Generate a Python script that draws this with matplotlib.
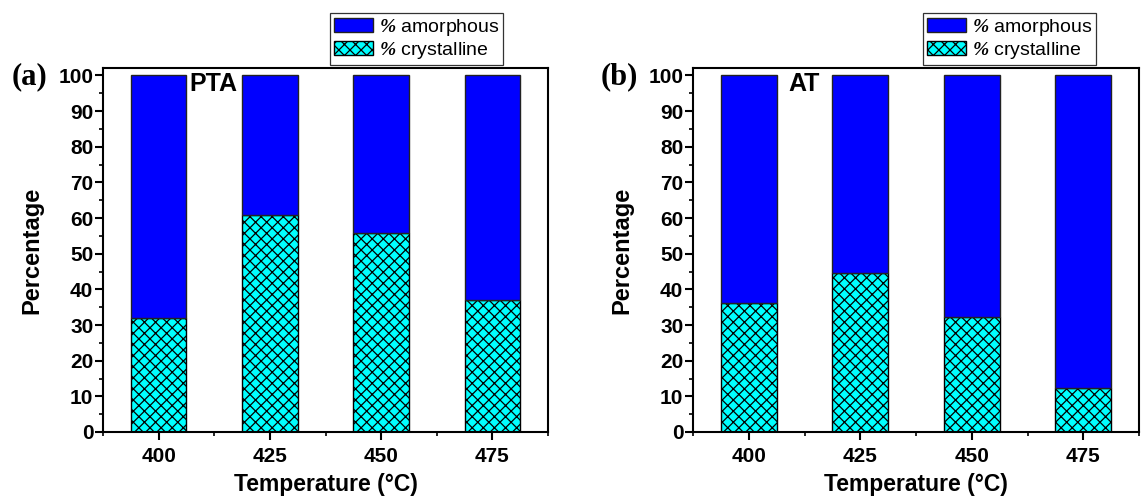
import matplotlib
matplotlib.use("Agg")
from matplotlib import pyplot as plt
from matplotlib.ticker import MultipleLocator, FixedLocator
import numpy as np

temperatures = ["400", "425", "450", "475"]
pta_crystalline = [32.0, 61.0, 55.7, 37.0]
at_crystalline = [36.2, 44.5, 32.2, 12.3]

plt.rcParams["font.family"] = ["Liberation Sans", "DejaVu Sans"]
plt.rcParams["font.weight"] = "bold"
plt.rcParams["mathtext.fontset"] = "custom"
plt.rcParams["mathtext.rm"] = "Liberation Serif:italic"
plt.rcParams["mathtext.it"] = "Liberation Serif:italic"
plt.rcParams["mathtext.bf"] = "Liberation Serif:italic"
plt.rcParams["hatch.linewidth"] = 0.9
plt.rcParams["hatch.color"] = "black"


def draw_panel(ax, crystalline, name, name_x, letter, legend_anchor):
    ''' Stacked bars of crystalline / amorphous fractions '''
    x = np.arange(len(temperatures))
    amorphous = [100 - c for c in crystalline]
    ax.bar(x, crystalline, width=0.5, color="#00ffff", edgecolor="black",
           linewidth=1.0, hatch="xxx", label=r"$\%$ crystalline", zorder=2)
    ax.bar(x, amorphous, width=0.5, bottom=crystalline, color="#0000ff",
           edgecolor="#222222", linewidth=1.0, label=r"$\%$ amorphous", zorder=2)

    ax.set_xlim(-0.5, 3.5)
    ax.set_ylim(0, 102.1)
    ax.set_xticks(x)
    ax.set_xticklabels(temperatures)
    ax.xaxis.set_minor_locator(FixedLocator([-0.5, 0.5, 1.5, 2.5, 3.5]))
    ax.yaxis.set_major_locator(MultipleLocator(10))
    ax.yaxis.set_minor_locator(MultipleLocator(5))
    ax.tick_params(axis="both", which="major", direction="out", length=6,
                   width=1.5, labelsize=15)
    ax.tick_params(axis="y", which="major", pad=1)
    ax.tick_params(axis="x", which="major", pad=5)
    ax.tick_params(axis="both", which="minor", direction="out", length=3, width=1.2)
    for spine in ax.spines.values():
        spine.set_linewidth(1.5)

    ax.set_xlabel("Temperature (°C)", fontsize=16.5, fontweight="bold", labelpad=5)
    ax.set_ylabel("Percentage", fontsize=17, fontweight="bold", labelpad=11)

    ax.text(name_x, 0.99, name, transform=ax.transAxes, fontsize=18,
            fontweight="bold", ha="left", va="top")
    ax.text(-0.165, 0.975, letter, transform=ax.transAxes, fontsize=22,
            fontweight="bold", family=["Liberation Serif"], ha="center", va="center")

    handles, labels = ax.get_legend_handles_labels()
    leg = ax.legend(handles[::-1], labels[::-1], loc="upper left",
                    bbox_to_anchor=legend_anchor, bbox_transform=plt.gcf().transFigure,
                    frameon=True, fancybox=False, edgecolor="black",
                    prop={"weight": "normal", "size": 14}, borderpad=0.2,
                    labelspacing=0.1, handlelength=2.0, handleheight=0.75,
                    handletextpad=0.3, borderaxespad=0)
    leg.get_frame().set_linewidth(0.9)


fig = plt.figure(figsize=(11.41, 4.99), dpi=100)
ax1 = fig.add_axes([0.0903, 0.1343, 0.390, 0.7294])
ax2 = fig.add_axes([0.6074, 0.1343, 0.3909, 0.7294])

draw_panel(ax1, pta_crystalline, "PTA", 0.195, "(a)", (330 / 1141, 1 - 13 / 499))
draw_panel(ax2, at_crystalline, "AT", 0.213, "(b)", (923 / 1141, 1 - 13 / 499))

fig.savefig("out.png", dpi=100)
